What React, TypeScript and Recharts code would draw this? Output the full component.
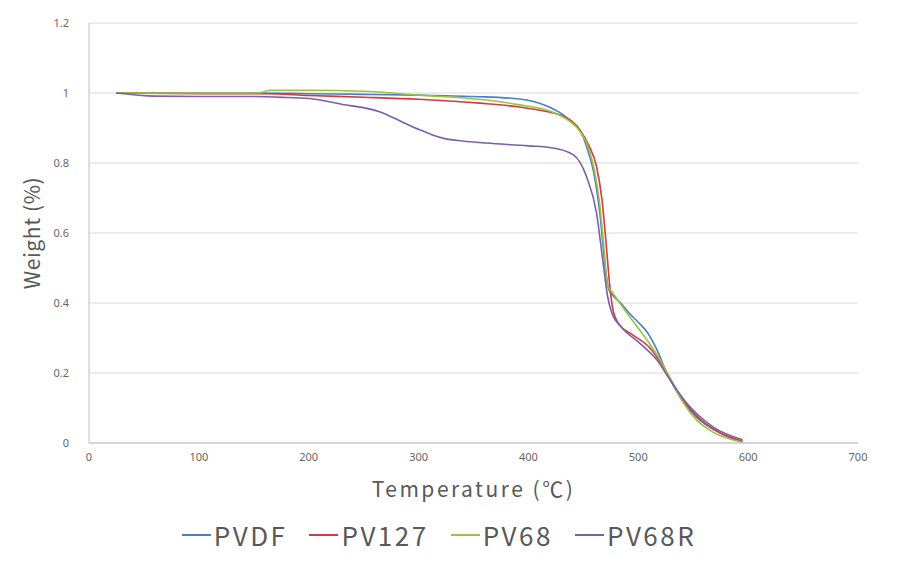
import { LineChart, Line, XAxis, YAxis, CartesianGrid, Legend } from "recharts"

// TGA curves (temperature in °C, weight fraction)
const pvdfTemp = [25, 50, 100, 150, 200, 250, 300, 350, 392, 415, 429, 440, 447, 453, 459, 465, 470, 473, 476, 484, 492, 500, 508, 517, 526, 538, 553, 574, 595]
const pvdfWeight = [1.0, 1.0, 1.0, 1.0, 0.998, 0.996, 0.994, 0.99, 0.983, 0.965, 0.943, 0.915, 0.894, 0.846, 0.78, 0.657, 0.5, 0.44, 0.425, 0.4, 0.37, 0.345, 0.317, 0.266, 0.2, 0.131, 0.074, 0.029, 0.003]

const pv127Temp = [25, 100, 160, 200, 250, 300, 356, 392, 415, 429, 440, 447, 455, 462, 467, 471, 474, 477, 483, 495, 511, 523, 538, 553, 574, 595]
const pv127Weight = [1.0, 0.998, 0.998, 0.993, 0.988, 0.982, 0.971, 0.96, 0.948, 0.937, 0.918, 0.894, 0.85, 0.79, 0.694, 0.56, 0.45, 0.38, 0.337, 0.309, 0.27, 0.217, 0.135, 0.078, 0.03, 0.005]

const pv68Temp = [25, 100, 155, 165, 200, 250, 300, 362, 392, 420, 435, 447, 455, 460, 465, 469, 472, 476, 490, 508, 520, 530, 540, 553, 568, 595]
const pv68Weight = [1.0, 1.0, 1.0, 1.008, 1.008, 1.005, 0.994, 0.98, 0.966, 0.948, 0.925, 0.89, 0.84, 0.78, 0.68, 0.55, 0.45, 0.432, 0.37, 0.294, 0.237, 0.178, 0.12, 0.066, 0.031, 0.002]

const pv68rTemp = [25, 60, 100, 150, 180, 204, 230, 265, 286, 301, 312, 325, 340, 362, 400, 422, 441, 453, 462, 468, 472, 476, 485, 501, 517, 529, 544, 568, 595]
const pv68rWeight = [1.0, 0.991, 0.99, 0.99, 0.987, 0.983, 0.968, 0.946, 0.916, 0.895, 0.881, 0.869, 0.863, 0.857, 0.849, 0.843, 0.823, 0.76, 0.657, 0.514, 0.42, 0.371, 0.33, 0.286, 0.237, 0.18, 0.114, 0.046, 0.009]

const xTicks = [0, 100, 200, 300, 400, 500, 600, 700]
const yTicks = [0, 0.2, 0.4, 0.6, 0.8, 1, 1.2]

const toRows = (temps: number[], weights: number[]) =>
  temps.map((t, i) => ({ temp: t, weight: weights[i] }))

const series = [
  { name: "PVDF", color: "#4a7ec9", data: toRows(pvdfTemp, pvdfWeight) },
  { name: "PV127", color: "#d03b3f", data: toRows(pv127Temp, pv127Weight) },
  { name: "PV68", color: "#9bc23c", data: toRows(pv68Temp, pv68Weight) },
  { name: "PV68R", color: "#7c5fa8", data: toRows(pv68rTemp, pv68rWeight) },
]

const titleFont = '"Noto Sans CJK KR", "Noto Sans", sans-serif'
const tickStyle = { fontSize: 11, fill: "#666666", fontFamily: '"Noto Sans", sans-serif' }

function renderLegend() {
  return (
    <div style={{ display: "flex", justifyContent: "center", alignItems: "center", fontFamily: titleFont, fontSize: 26, letterSpacing: 2.5, color: "#595959" }}>
      {series.map((s) => (
        <div key={s.name} style={{ display: "flex", alignItems: "center", marginRight: 22 }}>
          <span style={{ display: "inline-block", width: 29, height: 2, background: s.color, marginRight: 3 }} />
          <span>{s.name}</span>
        </div>
      ))}
    </div>
  )
}

export default function App() {
  return (
    <div style={{ width: 900, height: 571, background: "#fff" }}>
      <style>{`body { margin: 0; }`}</style>
      <LineChart width={900} height={571} margin={{ top: 23, right: 42, bottom: 74, left: 0 }}>
        <CartesianGrid vertical={false} stroke="#d9d9d9" />
        <XAxis
          type="number"
          dataKey="temp"
          domain={[0, 700]}
          ticks={xTicks}
          tickLine={false}
          axisLine={{ stroke: "#bfbfbf" }}
          tick={tickStyle}
          tickMargin={4}
          height={54}
          allowDuplicatedCategory={false}
          label={{ value: "Temperature (℃)", position: "insideBottom", offset: 0, fontSize: 21, letterSpacing: 2.5, fill: "#595959", fontFamily: titleFont }}
        />
        <YAxis
          type="number"
          dataKey="weight"
          domain={[0, 1.2]}
          ticks={yTicks}
          tickLine={false}
          axisLine={{ stroke: "#bfbfbf" }}
          tick={tickStyle}
          tickMargin={14}
          width={89}
          label={({ viewBox }: any) => (
            <text
              x={viewBox.x + 31}
              y={viewBox.y + viewBox.height / 2}
              transform={`rotate(-90, ${viewBox.x + 31}, ${viewBox.y + viewBox.height / 2})`}
              textAnchor="middle"
              dominantBaseline="central"
              fontSize={21}
              letterSpacing={0.6}
              fill="#595959"
              fontFamily={titleFont}
            >
              Weight (%)
            </text>
          )}
        />
        {series.map((s) => (
          <Line
            key={s.name}
            name={s.name}
            data={s.data}
            dataKey="weight"
            type="monotone"
            stroke={s.color}
            strokeWidth={1.6}
            dot={false}
            isAnimationActive={false}
          />
        ))}
        <Legend
          verticalAlign="middle"
          content={renderLegend}
          wrapperStyle={{ top: 516, left: 0, width: 900 }}
        />
      </LineChart>
    </div>
  )
}
